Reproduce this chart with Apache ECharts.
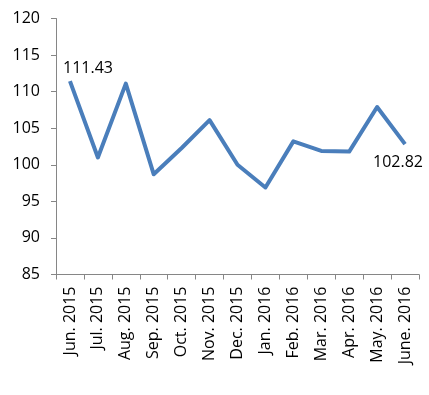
<!DOCTYPE html>
<html><head><meta charset="utf-8">
<script src="https://cdn.jsdelivr.net/npm/echarts@6/dist/echarts.min.js"></script>
<style>html,body{margin:0;padding:0;background:#fff}#c{width:429px;height:395px}</style>
</head><body><div id="c"></div>
<script>
const categories = ["Jun. 2015","Jul. 2015","Aug. 2015","Sep. 2015","Oct. 2015","Nov. 2015","Dec. 2015","Jan. 2016","Feb. 2016","Mar. 2016","Apr. 2016","May. 2016","June. 2016"];
const values = [111.43, 101.0, 111.1, 98.7, 102.3, 106.1, 100.0, 96.9, 103.2, 101.9, 101.8, 107.9, 102.82];
const yMin = 85, yMax = 120, yStep = 5;

const font = "'Open Sans', sans-serif";
const data = values.map((v, i) => {
  const d = { value: v };
  if (i === 0) d.label = { show: true, position: 'top', offset: [18, 0] };
  if (i === values.length - 1) d.label = { show: true, position: 'bottom', offset: [-7, 5] };
  return d;
});

const chart = echarts.init(document.getElementById('c'), null, { renderer: 'canvas' });
chart.setOption({
  animation: false,
  grid: { left: 56, right: 10, top: 18.5, bottom: 120.5 },
  xAxis: {
    type: 'category', data: categories, boundaryGap: true,
    axisLine: { lineStyle: { color: '#868686', width: 1 } },
    axisTick: { show: true, length: 5, lineStyle: { color: '#868686' } },
    axisLabel: { rotate: 90, margin: 12, color: '#000', fontFamily: font, fontSize: 16, interval: 0 },
    splitLine: { show: false }
  },
  yAxis: {
    type: 'value', min: yMin, max: yMax, interval: yStep,
    axisLine: { show: true, lineStyle: { color: '#868686', width: 1 } },
    axisTick: { show: true, length: 5, lineStyle: { color: '#868686' } },
    axisLabel: { margin: 16, color: '#000', fontFamily: font, fontSize: 16 },
    splitLine: { show: false }
  },
  series: [{
    type: 'line', data: data, showSymbol: true, symbol: 'circle', symbolSize: 0,
    lineStyle: { color: '#4A7EBB', width: 4, join: 'round' },
    itemStyle: { color: '#4A7EBB' },
    label: { show: false, color: '#000', fontFamily: font, fontSize: 16, formatter: p => p.value.toFixed(2) }
  }]
});
</script></body></html>
